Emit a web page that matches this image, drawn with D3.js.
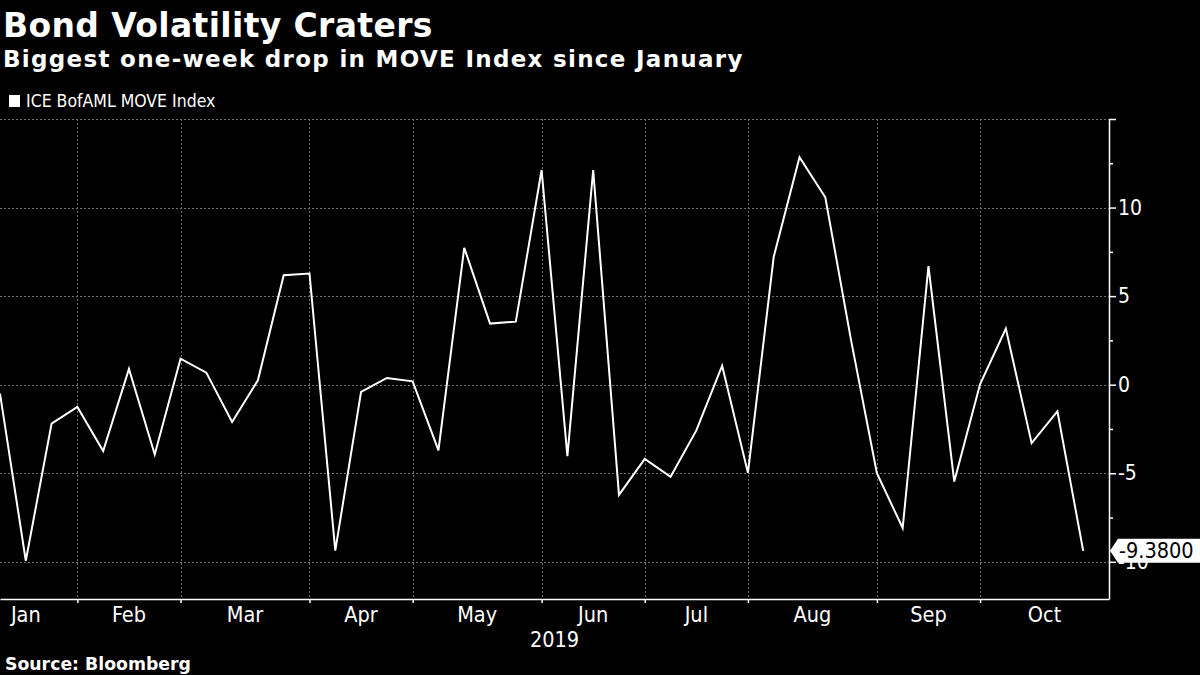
<!DOCTYPE html>
<html><head><meta charset="utf-8">
<script src="https://cdn.jsdelivr.net/npm/d3@7"></script>
<style>
html,body{margin:0;padding:0;background:#000;}
svg{display:block;}
.cond{font-family:"DejaVu Sans Condensed","DejaVu Sans",sans-serif;font-stretch:condensed;}
.bold{font-family:"DejaVu Sans",sans-serif;font-weight:bold;}
</style>
</head><body>
<svg id="chart" width="1200" height="675"></svg>
<script>
// ---- data ----
const weekDates = [
  "2019-01-11","2019-01-18","2019-01-25",
  "2019-02-01","2019-02-08","2019-02-15","2019-02-22",
  "2019-03-01","2019-03-08","2019-03-15","2019-03-22","2019-03-29",
  "2019-04-05","2019-04-12","2019-04-19","2019-04-26",
  "2019-05-03","2019-05-10","2019-05-17","2019-05-24","2019-05-31",
  "2019-06-07","2019-06-14","2019-06-21","2019-06-28",
  "2019-07-05","2019-07-12","2019-07-19","2019-07-26",
  "2019-08-02","2019-08-09","2019-08-16","2019-08-23","2019-08-30",
  "2019-09-06","2019-09-13","2019-09-20","2019-09-27",
  "2019-10-04","2019-10-11","2019-10-18","2019-10-25","2019-10-30"
];
const moveChange = [
  -0.5, -9.94, -2.2,
  -1.26, -3.75, 0.89, -3.94,
  1.47, 0.68, -2.11, 0.25, 6.18,
  6.28, -9.37, -0.41, 0.38,
  0.19, -3.71, 7.73, 3.45, 3.56,
  12.12, -4.03, 12.12, -6.22,
  -4.19, -5.2, -2.58, 1.07,
  -4.98, 7.22, 12.84, 10.58, 2.5,
  -5.0, -8.09, 6.69, -5.47,
  0.02, 3.17, -3.3, -1.51, -9.38
];
const monthLabels = ["Jan","Feb","Mar","Apr","May","Jun","Jul","Aug","Sep","Oct"];
const yearLabel = "2019";
const yMajorTicks = [-10, -5, 0, 5, 10, 15];
const yMinorTicks = [-7.5, -2.5, 2.5, 7.5, 12.5];
const yLabelled = [-10, -5, 0, 5, 10];
const lastValueLabel = "-9.3800";
const seriesName = "ICE BofAML MOVE Index";
const titleText = "Bond Volatility Craters";
const subtitleText = "Biggest one-week drop in MOVE Index since January";
const sourceText = "Source: Bloomberg";

// ---- layout ----
const plot = {left: 0, right: 1109, top: 119, bottom: 599};
const svg = d3.select("#chart");
svg.append("rect").attr("width",1200).attr("height",675).attr("fill","#000");

const parse = d3.timeParse("%Y-%m-%d");
const dates = weekDates.map(parse);
const nSlots = dates.length; // last point sits one slot before the axis
const x = d3.scaleLinear().domain([0, nSlots]).range([plot.left, plot.right]);
const y = d3.scaleLinear().domain([-12.1, 15]).range([plot.bottom, plot.top]);

const weekMs = 7 * 864e5;
const idxOf = d => Math.round((d - dates[0]) / weekMs);

// month boundaries (first Friday of each month -> week index)
const monthStart = monthLabels.map((m, i) => idxOf(d3.timeFriday.ceil(new Date(2019, i, 1))));
const monthEnd = monthStart.map((s, i) => i < monthStart.length - 1 ? monthStart[i + 1] : nSlots);
const boundaryTicks = monthStart.slice(1);

// gridlines
const grid = svg.append("g");
grid.selectAll("line.h").data(yMajorTicks).join("line")
  .attr("x1", plot.left).attr("x2", plot.right)
  .attr("y1", d => Math.round(y(d)) + 0.5).attr("y2", d => Math.round(y(d)) + 0.5)
  .attr("stroke", "#707070").attr("stroke-width", 1).attr("stroke-dasharray", "2,2");
grid.selectAll("line.v").data(boundaryTicks).join("line")
  .attr("x1", d => Math.round(x(d)) + 0.5).attr("x2", d => Math.round(x(d)) + 0.5)
  .attr("y1", plot.top).attr("y2", plot.bottom)
  .attr("stroke", "#707070").attr("stroke-width", 1).attr("stroke-dasharray", "2,2");

// bottom axis
const xAxis = d3.axisBottom(x).tickValues(boundaryTicks).tickSize(4).tickSizeOuter(0).tickFormat("");
const gx = svg.append("g").attr("transform", `translate(0,${plot.bottom})`).call(xAxis);
gx.select(".domain").attr("stroke", "#fff").attr("stroke-width", 1.5);
gx.selectAll(".tick line").attr("stroke", "#fff").attr("stroke-width", 1.5);

svg.append("g").selectAll("text").data(monthLabels).join("text")
  .attr("class","cond")
  .attr("x", (d, i) => x((monthStart[i] + monthEnd[i]) / 2))
  .attr("y", 622)
  .attr("text-anchor", "middle")
  .attr("fill", "#fff")
  .attr("font-size", 21.5)
  .text(d => d);
svg.append("text").attr("class","cond")
  .attr("x", (plot.left + plot.right) / 2).attr("y", 647)
  .attr("text-anchor","middle").attr("fill","#fff").attr("font-size",21.5)
  .text(yearLabel);

// right axis
const yAxis = d3.axisRight(y).tickValues(yMajorTicks).tickSize(7).tickSizeOuter(0)
  .tickFormat(d => yLabelled.includes(d) ? String(d) : "");
const gy = svg.append("g").attr("transform", `translate(${plot.right},0)`).call(yAxis);
gy.select(".domain").attr("stroke", "#fff").attr("stroke-width", 1.5);
gy.selectAll(".tick line").attr("stroke", "#fff").attr("stroke-width", 1.5);
gy.selectAll(".tick text").attr("class","cond").attr("fill", "#fff").attr("font-size", 21).attr("x", 9);
const yMinor = d3.axisRight(y).tickValues(yMinorTicks).tickSize(4).tickSizeOuter(0).tickFormat("");
const gym = svg.append("g").attr("transform", `translate(${plot.right},0)`).call(yMinor);
gym.select(".domain").remove();
gym.selectAll(".tick line").attr("stroke", "#fff").attr("stroke-width", 1.5);

// line
svg.append("defs").append("clipPath").attr("id","clip").append("rect")
  .attr("x", plot.left).attr("y", 0).attr("width", plot.right - plot.left).attr("height", 675);
const line = d3.line().x((d, i) => x(i)).y(d => y(d));
svg.append("path").datum(moveChange)
  .attr("clip-path","url(#clip)")
  .attr("d", line).attr("fill","none").attr("stroke","#fff").attr("stroke-width",2)
  .attr("stroke-linejoin","miter");

// last value tag
const lastV = moveChange[moveChange.length - 1];
const ly = y(lastV);
const tag = svg.append("g");
tag.append("path")
  .attr("d", `M${plot.right + 1},${ly} L${plot.right + 9},${ly - 12} L1200,${ly - 12} L1200,${ly + 12} L${plot.right + 9},${ly + 12} Z`)
  .attr("fill", "#fff");
tag.append("text").attr("class","cond")
  .attr("x", plot.right + 10).attr("y", ly + 7.5)
  .attr("fill", "#000").attr("font-size", 21.5).text(lastValueLabel);

// legend
svg.append("rect").attr("x", 9).attr("y", 95).attr("width", 11).attr("height", 12).attr("fill", "#fff");
svg.append("text").attr("class","cond").attr("x", 26).attr("y", 107)
  .attr("fill","#fff").attr("font-size",17.5).text(seriesName);

// titles
svg.append("text").attr("class","bold").attr("x", 3).attr("y", 37)
  .attr("fill","#fff").attr("font-size",33).attr("letter-spacing", 0.35).text(titleText);
svg.append("text").attr("class","bold").attr("x", 3).attr("y", 67)
  .attr("fill","#fff").attr("font-size",23).attr("letter-spacing", 1.3).text(subtitleText);
svg.append("text").attr("class","bold").attr("x", 5).attr("y", 670)
  .attr("fill","#fff").attr("font-size",17.3).text(sourceText);
</script>
</body></html>
